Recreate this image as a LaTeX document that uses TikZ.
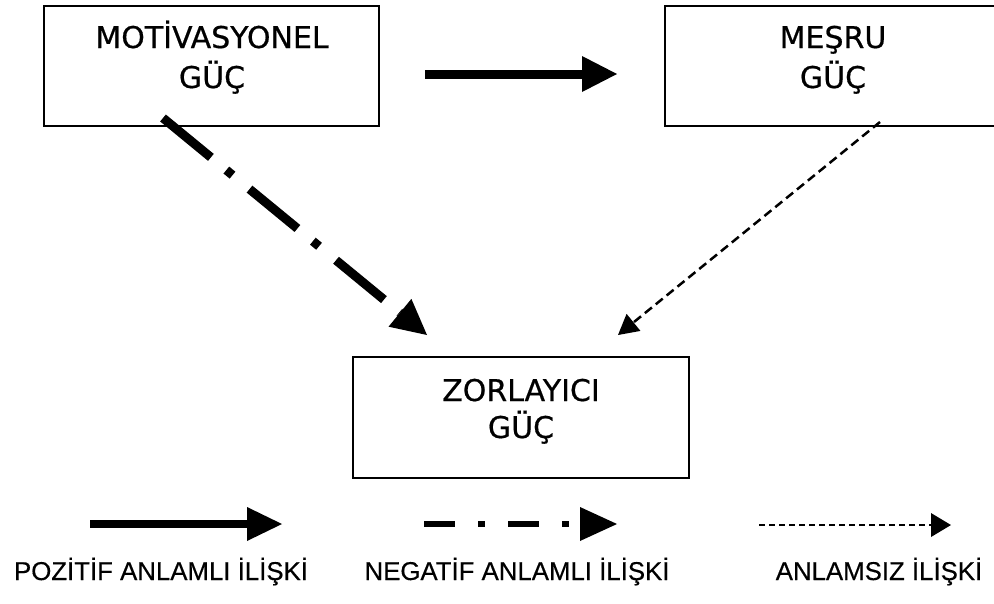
\documentclass[tikz,border=0pt]{standalone}
\usepackage{fontspec}
\newfontfamily\boxfont[FakeBold=0.6]{DejaVu Sans}
\newfontfamily\legfont[FakeBold=0.4]{Liberation Sans}
\usetikzlibrary{arrows.meta}
\tikzset{
  box/.style={draw, line width=1.8pt, rectangle, inner sep=0pt, outer sep=0pt,
              minimum width=335pt, minimum height=120pt},
  boxtxt/.style={anchor=base, inner sep=0pt, font=\boxfont\fontsize{30}{36}\selectfont},
  legtxt/.style={anchor=base, inner sep=0pt, font=\legfont\fontsize{25.8}{30}\selectfont},
  bigtip/.style={-{Triangle[length=35pt,width=36pt,line width=0pt]}},
  posarrow/.style={line width=9pt, bigtip},
  negarrow/.style={line width=9pt, line cap=butt, bigtip,
                   dash pattern=on 62pt off 20pt on 8pt off 22pt},
  nularrow/.style={line width=2.5pt, dash pattern=on 9pt off 5pt,
                   -{Triangle[length=20pt,width=22pt,line width=0pt]}},
  legpos/.style={line width=8pt, -{Triangle[length=35pt,width=34pt,line width=0pt]}},
  legneg/.style={line width=6pt, line cap=butt,
                 dash pattern=on 31pt off 23pt on 7pt off 23pt,
                 -{Triangle[length=37pt,width=34pt,line width=0pt]}},
  legnul/.style={line width=1.5pt, dash pattern=on 6pt off 4pt,
                 -{Triangle[length=20pt,width=24pt,line width=0pt]}},
}
\begin{document}
\begin{tikzpicture}[x=1pt,y=-1pt]
  \useasboundingbox (0,0) rectangle (994,603);
  \clip (0,0) rectangle (994,603);

  % boxes
  \node[box] (A) at (211.5,66) {};
  \node[box] (B) at (832.5,66) {};
  \node[box, minimum width=336pt, minimum height=121pt] (C) at (521,417.5) {};

  % box labels
  \node[boxtxt] (a1) at (212,48) {MOTİVASYONEL};
  \node[boxtxt] (a2) at (212,88) {GÜÇ};
  \node[boxtxt] (b1) at (833,48) {MEŞRU};
  \node[boxtxt] (b2) at (833,88) {GÜÇ};
  \node[boxtxt] (c1) at (521,401) {ZORLAYICI};
  \node[boxtxt] (c2) at (521,438) {GÜÇ};

  % connectors
  \draw[posarrow, shorten <=46pt, shorten >=48pt]
    ([yshift=-8pt]A.east) -- ([yshift=-8pt]B.west);
  \draw[negarrow]
    ([xshift=119pt,yshift=8pt]A.south west) -- ([xshift=74pt,yshift=22pt]C.north west);
  \draw[nularrow]
    ([xshift=215pt,yshift=4pt]B.south west) -- ([xshift=-71pt,yshift=22pt]C.north east);

  % legend
  \coordinate (p1) at (90,524);
  \coordinate (p2) at (282,524);
  \coordinate (n1) at (424,524);
  \coordinate (n2) at (617,524);
  \coordinate (z1) at (759,525);
  \coordinate (z2) at (951,525);
  \draw[legpos] (p1) -- (p2);
  \draw[legneg] (n1) -- (n2);
  \draw[legnul] (z1) -- (z2);

  \node[legtxt] (lp) at (161,580) {POZİTİF ANLAMLI İLİŞKİ};
  \node[legtxt] (ln) at (517,580) {NEGATİF ANLAMLI İLİŞKİ};
  \node[legtxt] (lz) at (879,580) {ANLAMSIZ İLİŞKİ};
\end{tikzpicture}
\end{document}
